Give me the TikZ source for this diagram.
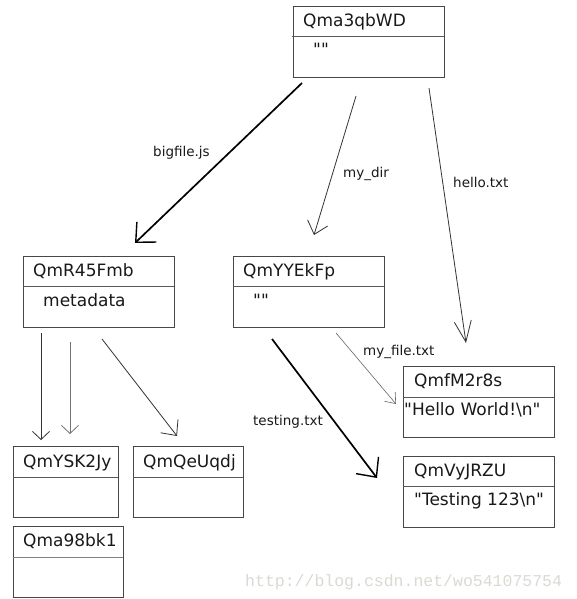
\documentclass[tikz,border=0pt]{standalone}
\usepackage{fontspec}
\newfontfamily\dvs{DejaVu Sans}
\setmainfont{DejaVu Sans}
\newfontfamily\wmfont{Liberation Mono}
\usetikzlibrary{arrows.meta}
\tikzset{
  box/.style={draw=black!72, line width=0.8pt, rectangle, inner sep=0pt, outer sep=0pt, anchor=north west},
  divline/.style={draw=black!65, line width=0.8pt},
  ttl/.style={anchor=base west, inner sep=0pt, font=\dvs\fontsize{17}{20}\selectfont, text=black!90},
  lbl/.style={anchor=base west, inner sep=0pt, font=\dvs\fontsize{13.5}{16}\selectfont, text=black!90},
  thinarr/.style={draw=black!80, line width=0.8pt, -{Straight Barb[length=9pt,width=18pt,line width=0.8pt]}},
  thickarr/.style={draw=black, line width=1.7pt, -{Straight Barb[length=15pt,width=28pt,line width=1.4pt]}},
}
\begin{document}
\begin{tikzpicture}[x=1pt,y=-1pt]
\useasboundingbox[fill=white] (0,0) rectangle (576,599);

% root
\node[box, minimum width=151pt, minimum height=71pt] (root) at (293,6) {};
\draw[divline] (root.north west) ++(-1,30) -- ++(152,0);
\node[ttl] (root-t) at (303,27) {Qma3qbWD};
\node[ttl] (root-c) at (313,56) {""};

% QmR45Fmb
\node[box, minimum width=151pt, minimum height=71pt] (big) at (23,256) {};
\draw[divline] (big.north west) ++(0,30) -- ++(151,0);
\node[ttl] (big-t) at (33,276) {QmR45Fmb};
\node[ttl] (big-c) at (43,306) {metadata};

% QmYYEkFp
\node[box, minimum width=151pt, minimum height=71pt] (dir) at (233,256) {};
\draw[divline] (dir.north west) ++(0,30) -- ++(151,0);
\node[ttl] (dir-t) at (243,276) {QmYYEkFp};
\node[ttl] (dir-c) at (253,306) {""};

% QmfM2r8s
\node[box, minimum width=151pt, minimum height=71pt] (hello) at (403,366) {};
\draw[divline] (hello.north west) ++(0,31) -- ++(151,0);
\node[ttl] (hello-t) at (414,386) {QmfM2r8s};
\node[ttl] (hello-c) at (404,415) {"Hello World!\textbackslash n"};

% QmVyJRZU
\node[box, minimum width=151pt, minimum height=71pt] (test) at (403,456) {};
\draw[divline] (test.north west) ++(0,30) -- ++(151,0);
\node[ttl] (test-t) at (414,476) {QmVyJRZU};
\node[ttl] (test-c) at (414,505) {"Testing 123\textbackslash n"};

% QmYSK2Jy
\node[box, minimum width=105pt, minimum height=71pt] (b1) at (13,446) {};
\draw[divline] (b1.north west) ++(0,31) -- ++(105,0);
\node[ttl] (b1-t) at (23,467) {QmYSK2Jy};

% QmQeUqdj
\node[box, minimum width=110pt, minimum height=71pt] (b2) at (133,446) {};
\draw[divline] (b2.north west) ++(0,31) -- ++(110,0);
\node[ttl] (b2-t) at (143,467) {QmQeUqdj};

% Qma98bk1
\node[box, minimum width=110pt, minimum height=71pt] (b3) at (13,526) {};
\draw[divline, draw=black!50] (b3.north west) ++(0,31) -- ++(110,0);
\node[ttl] (b3-t) at (23,546) {Qma98bk1};

% connector end points
\coordinate (e1s) at (302,83);  \coordinate (e1t) at (135,243);
\coordinate (e2s) at (356,96);  \coordinate (e2t) at (314,235);
\coordinate (e3s) at (429,88);  \coordinate (e3t) at (466,343);
\coordinate (e4s) at (41,333);  \coordinate (e4t) at (41,440);
\coordinate (e5s) at (70,342);  \coordinate (e5t) at (70,434);
\coordinate (e6s) at (102,339); \coordinate (e6t) at (177,436);
\coordinate (e7s) at (336,333); \coordinate (e7t) at (396,404);
\coordinate (e8s) at (272,339); \coordinate (e8t) at (377,478);

\draw[thickarr] (e1s) -- (e1t);
\draw[thinarr, -{Straight Barb[length=12pt,width=21pt,line width=0.8pt]}] (e2s) -- (e2t);
\draw[thinarr, -{Straight Barb[length=21pt,width=17pt,line width=0.8pt]}] (e3s) -- (e3t);
\draw[thinarr, -{Straight Barb[length=8pt,width=17pt,line width=0.8pt]}] (e4s) -- (e4t);
\draw[thinarr, draw=black!55, -{Straight Barb[length=8pt,width=17pt,line width=0.8pt]}] (e5s) -- (e5t);
\draw[thinarr, -{Straight Barb[length=12pt,width=22pt,line width=0.8pt]}] (e6s) -- (e6t);
\draw[thinarr, draw=black!60, line width=0.6pt, -{Straight Barb[length=9pt,width=14pt,line width=0.6pt]}] (e7s) -- (e7t);
\draw[thickarr] (e8s) -- (e8t);

% labels
\node[lbl] (l1) at (153,156) {bigfile.js};
\node[lbl] (l2) at (343,177) {my\_dir};
\node[lbl] (l3) at (453,187) {hello.txt};
\node[lbl] (l4) at (363,355) {my\_file.txt};
\node[lbl] (l5) at (253,425) {testing.txt};

% watermark
\node[anchor=base west, inner sep=0pt, text={rgb,255:red,218;green,218;blue,212}, font=\wmfont\fontsize{16.5}{18}\selectfont] (wm) at (245,586) {http://blog.csdn.net/wo541075754};
\end{tikzpicture}
\end{document}
